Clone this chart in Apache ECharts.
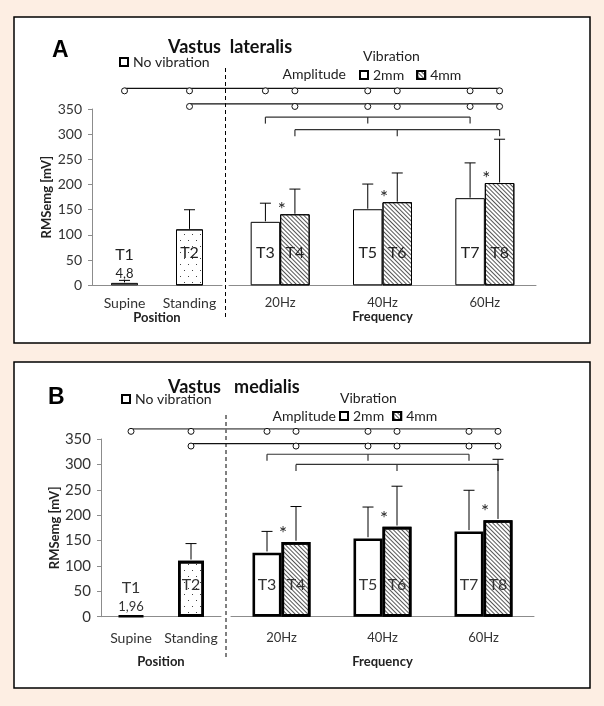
<!DOCTYPE html>
<html><head><meta charset="utf-8">
<script src="https://cdn.jsdelivr.net/npm/echarts@6/dist/echarts.min.js"></script>
<style>html,body{margin:0;padding:0;background:#fdeee3;}#c{width:604px;height:706px;}</style>
</head><body><div id="c"></div>
<script>
// ---------- data ----------
const positionCats = ['Supine', 'Standing'];
const freqCats = ['20Hz', '40Hz', '60Hz'];
const barNames = ['T1', 'T2', 'T3', 'T4', 'T5', 'T6', 'T7', 'T8'];
const yMin = 0, yMax = 350, yStep = 50;

const meanA_noVib = [4.8, 111];
const sdA_noVib = [5, 39];
const meanA_2mm = [126, 151, 173];
const sdA_2mm = [37, 50, 70];
const meanA_4mm = [141, 165, 203];
const sdA_4mm = [50, 58, 87];

const meanB_noVib = [1.96, 110];
const sdB_noVib = [null, 34];
const meanB_2mm = [126, 154, 168];
const sdB_2mm = [42, 62, 81];
const meanB_4mm = [147, 177, 190];
const sdB_4mm = [70, 80, 120];

const star4mm = [true, true, true];

// significance annotations (levels in mV, members = indices into barNames)
const rowLevelsA = [391, 360];
const rowLevelsB = [370, 341];
const rowMembers = [[0, 1, 2, 3, 4, 5, 6, 7], [1, 3, 4, 5, 6, 7]];
const bracketLevelsA = [334, 309];
const bracketLevelsB = [320, 300];
const bracketDrop = 13;
const bracketMembers = [[2, 4, 6], [3, 5, 7]];

// ---------- style / layout ----------
const FONT = 'Lato';
const panels = [
  { key: 'A', title: 'Vastus  lateralis', mean: [meanA_noVib, meanA_2mm, meanA_4mm], sd: [sdA_noVib, sdA_2mm, sdA_4mm],
    rows: rowLevelsA, brackets: bracketLevelsA,
    gl: { left: 92, top: 109, width: 130, height: 176.3 }, gr: { left: 229, top: 109, width: 307, height: 176.3 },
    bw: 1, bwL: 27, bwR: 29.5, tick: 14, lblMargin: 11, nameGap: 25, yNameGap: 36,
    tDist: 24, starDy: -4, box: [14, 17, 576, 326], dash: [68, 318],
    letter: { x: 52, y: 51, font: 'bold 23px "Liberation Sans"' }, titleY: 47,
    vib: { x: 363, y: 56 }, amp: { x: 346, y: 74 }, leg1: { left: 119, top: 55 }, leg2: { left: 359, top: 68, gap: 12 },
    suffix: '', rowColor: ['#111', '#111'], labelColor: '#222' },
  { key: 'B', title: 'Vastus   medialis', mean: [meanB_noVib, meanB_2mm, meanB_4mm], sd: [sdB_noVib, sdB_2mm, sdB_4mm],
    rows: rowLevelsB, brackets: bracketLevelsB,
    gl: { left: 101, top: 439, width: 120, height: 177.7 }, gr: { left: 231, top: 439, width: 303, height: 177.7 },
    bw: 2.6, bwL: 26, bwR: 29, tick: 15, lblMargin: 15, nameGap: 39, yNameGap: 38,
    tDist: 23, starDy: -8, box: [14, 362, 576, 326], dash: [415, 660],
    letter: { x: 48, y: 398, font: '900 23px "Liberation Sans"' }, titleY: 387,
    vib: { x: 340, y: 398 }, amp: { x: 336, y: 416 }, leg1: { left: 121, top: 392 }, leg2: { left: 339, top: 409, gap: 8 },
    suffix: ' B', rowColor: ['#777', '#111'], labelColor: '#333' }
];

const hatch = { symbol: 'rect', symbolSize: 1, color: '#555', dashArrayX: [1, 0], dashArrayY: [1, 1.7], rotation: Math.PI / 4 };
const dots = { symbol: 'rect', symbolSize: 1, color: '#444', dashArrayX: [[1, 7], [0, 4, 1, 3]], dashArrayY: [1, 5], rotation: 0 };

const comma = v => String(v).replace('.', ',');

const option = { animation: false, backgroundColor: '#fdeee3', grid: [], xAxis: [], yAxis: [], series: [], legend: [] };

panels.forEach((p, k) => {
  const gL = 2 * k, gR = 2 * k + 1;
  option.grid.push(Object.assign({}, p.gl), Object.assign({}, p.gr));
  const xAx = (gi, cats, name, fs) => ({
    type: 'category', gridIndex: gi, data: cats,
    axisLine: { lineStyle: { color: '#8c8c8c', width: 1 } }, axisTick: { show: false },
    axisLabel: { interval: 0, color: '#333', fontFamily: FONT, fontSize: fs, margin: p.lblMargin },
    name: name, nameLocation: 'middle', nameGap: p.nameGap,
    nameTextStyle: { fontFamily: FONT, fontWeight: 'bold', fontSize: 13, color: '#222' }
  });
  option.xAxis.push(xAx(gL, positionCats, 'Position', 14), xAx(gR, freqCats, 'Frequency', 13));
  option.yAxis.push({
    type: 'value', gridIndex: gL, min: yMin, max: yMax, interval: yStep,
    splitLine: { show: false },
    axisLine: { show: true, lineStyle: { color: '#8c8c8c' } },
    axisTick: { show: true, length: 4, lineStyle: { color: '#8c8c8c' } },
    axisLabel: { color: '#333', fontFamily: FONT, fontSize: p.tick, margin: 10 },
    name: 'RMSemg [mV]', nameLocation: 'middle', nameGap: p.yNameGap,
    nameTextStyle: { fontFamily: FONT, fontWeight: 'bold', fontSize: 13, color: '#222' }
  }, { type: 'value', gridIndex: gR, min: yMin, max: yMax, interval: yStep, show: false, splitLine: { show: false } });

  const baseStyle = { color: '#fff', borderColor: '#000', borderWidth: p.bw };
  const tLabel = (name) => ({ show: true, position: 'insideBottom', distance: p.tDist, formatter: name,
    color: p.labelColor, fontFamily: FONT, fontSize: 16, lineHeight: 17 });

  // No vibration
  const nv = p.mean[0].map((v, i) => {
    const d = { value: v, label: tLabel(barNames[i]) };
    if (i === 0) {
      d.label = { show: true, position: 'insideBottom', distance: 2,
        formatter: '{t|' + barNames[0] + '}\n{v|' + comma(v) + '}',
        rich: { t: { fontFamily: FONT, fontSize: 16, lineHeight: 20, color: p.labelColor },
                v: { fontFamily: FONT, fontSize: 13, lineHeight: 18, color: p.labelColor } } };
    }
    if (i === 1) d.itemStyle = { decal: dots };
    return d;
  });
  option.series.push({ type: 'bar', name: 'No vibration' + p.suffix, xAxisIndex: gL, yAxisIndex: gL,
    barWidth: p.bwL, itemStyle: baseStyle, data: nv, z: 2 });
  option.series.push({ type: 'bar', name: '2mm' + p.suffix, xAxisIndex: gR, yAxisIndex: gR, barWidth: p.bwR, barGap: '0%',
    itemStyle: baseStyle, data: p.mean[1].map((v, i) => ({ value: v, label: tLabel(barNames[2 + 2 * i]) })), z: 2 });
  option.series.push({ type: 'bar', name: '4mm' + p.suffix, xAxisIndex: gR, yAxisIndex: gR, barWidth: p.bwR, barGap: '0%',
    itemStyle: Object.assign({}, baseStyle, { decal: hatch }),
    data: p.mean[2].map((v, i) => ({ value: v, label: tLabel(barNames[3 + 2 * i]) })), z: 2 });

  // error bars (+ asterisks)
  const errSeries = (gi, means, sds, offset, stars) => ({
    type: 'custom', xAxisIndex: gi, yAxisIndex: gi, z: 5, silent: true,
    encode: { x: 0, y: 1 },
    data: means.map((m, i) => sds[i] == null ? null : [i, m, sds[i]]).filter(Boolean),
    renderItem: (params, api) => {
      const i = api.value(0), m = api.value(1), s = api.value(2);
      const b = api.coord([i, m]), t = api.coord([i, m + s]);
      const x = b[0] + offset;
      const ch = [
        { type: 'line', shape: { x1: x, y1: b[1] - p.bw / 2, x2: x, y2: t[1] }, style: { stroke: '#000', lineWidth: 1 } },
        { type: 'line', shape: { x1: x - 5.5, y1: t[1], x2: x + 5.5, y2: t[1] }, style: { stroke: '#000', lineWidth: 1 } }
      ];
      if (stars && stars[i]) {
        ch.push({ type: 'text', x: b[0] + 1.5, y: b[1] + p.starDy,
          style: { text: '*', font: '19px ' + FONT, fill: '#222', align: 'center', verticalAlign: 'middle' } });
      }
      return { type: 'group', children: ch };
    }
  });
  option.series.push(errSeries(gL, p.mean[0], p.sd[0], 0, null));
  option.series.push(errSeries(gR, p.mean[1], p.sd[1], -p.bwR / 2, null));
  option.series.push(errSeries(gR, p.mean[2], p.sd[2], p.bwR / 2, star4mm));

  const legBase = { orient: 'horizontal', padding: 0, itemWidth: 8, itemHeight: 8, icon: 'rect', selectedMode: false,
    textStyle: { fontFamily: FONT, fontSize: 14, color: '#222' },
    formatter: n => n.replace(/ B$/, '') };
  option.legend.push(Object.assign({}, legBase, { left: p.leg1.left, top: p.leg1.top, data: ['No vibration' + p.suffix] }));
  option.legend.push(Object.assign({}, legBase, { left: p.leg2.left, top: p.leg2.top, itemGap: p.leg2.gap,
    data: ['2mm' + p.suffix, '4mm' + p.suffix] }));
});

const chart = echarts.init(document.getElementById('c'), null, { renderer: 'canvas' });
chart.setOption(option);

// ---------- annotations placed through the axes ----------
const slots = [['L', 0, 0], ['L', 1, 0], ['R', 0, -1], ['R', 0, 1], ['R', 1, -1], ['R', 1, 1], ['R', 2, -1], ['R', 2, 1]];
const graphics = [];
panels.forEach((p, k) => {
  const xs = slots.map(s => chart.convertToPixel({ xAxisIndex: s[0] === 'L' ? 2 * k : 2 * k + 1 }, s[1]) + s[2] * p.bwR / 2);
  const yp = v => chart.convertToPixel({ yAxisIndex: 2 * k }, v);
  const [bx, by, bw, bh] = p.box;
  graphics.push({ type: 'rect', z: -10, silent: true, shape: { x: bx, y: by, width: bw, height: bh },
    style: { fill: '#fff', stroke: '#000', lineWidth: 1.5 } });
  const midX = (p.gl.left + p.gl.width + p.gr.left) / 2;
  graphics.push({ type: 'line', silent: true, shape: { x1: midX, y1: p.dash[0], x2: midX, y2: p.dash[1] },
    style: { stroke: '#000', lineWidth: 1, lineDash: [4, 3] } });
  graphics.push({ type: 'text', silent: true, x: p.letter.x, y: p.letter.y,
    style: { text: p.key, font: p.letter.font, fill: '#000', verticalAlign: 'middle' } });
  graphics.push({ type: 'text', silent: true, x: 168, y: p.titleY,
    style: { text: p.title, font: 'bold 18px ' + FONT, fill: '#111', verticalAlign: 'middle' } });
  graphics.push({ type: 'text', silent: true, x: p.vib.x, y: p.vib.y,
    style: { text: 'Vibration', font: '14px ' + FONT, fill: '#222', verticalAlign: 'middle' } });
  graphics.push({ type: 'text', silent: true, x: p.amp.x, y: p.amp.y,
    style: { text: 'Amplitude', font: '14px ' + FONT, fill: '#222', align: 'right', verticalAlign: 'middle' } });
  p.rows.forEach((lvl, r) => {
    const mem = rowMembers[r], y = yp(lvl);
    graphics.push({ type: 'line', silent: true, shape: { x1: xs[mem[0]], y1: y, x2: xs[mem[mem.length - 1]], y2: y },
      style: { stroke: p.rowColor[r], lineWidth: r === 0 && k === 1 ? 1.6 : 1.2 } });
    mem.forEach(m => graphics.push({ type: 'circle', silent: true, shape: { cx: xs[m], cy: y + 2.5, r: 3 },
      style: { fill: '#fff', stroke: '#111', lineWidth: 1 } }));
  });
  p.brackets.forEach((lvl, r) => {
    const mem = bracketMembers[r], y = yp(lvl), y2 = yp(lvl - bracketDrop);
    graphics.push({ type: 'line', silent: true, shape: { x1: xs[mem[0]], y1: y, x2: xs[mem[mem.length - 1]], y2: y },
      style: { stroke: '#333', lineWidth: 1.2 } });
    mem.forEach(m => graphics.push({ type: 'line', silent: true, shape: { x1: xs[m], y1: y, x2: xs[m], y2: y2 },
      style: { stroke: '#333', lineWidth: 1.2 } }));
  });
});
chart.setOption({ graphic: graphics });
</script></body></html>
